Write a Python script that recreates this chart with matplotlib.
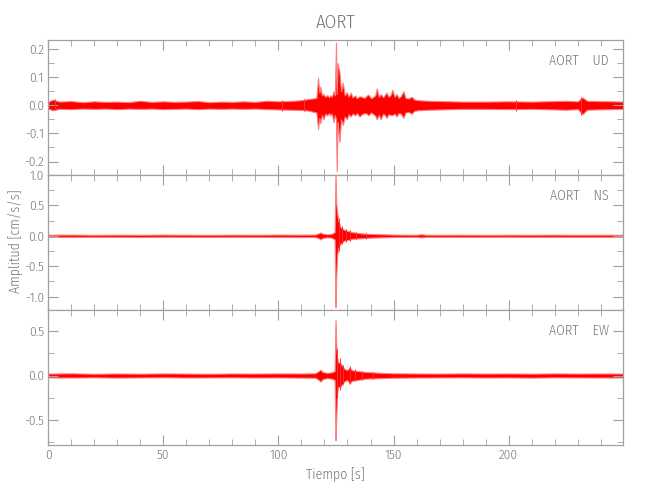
import matplotlib
matplotlib.use("Agg")
import matplotlib.pyplot as plt
from matplotlib.ticker import MultipleLocator, FormatStrFormatter

plt.rcParams["font.family"] = ["Fira Sans Condensed", "Liberation Sans Narrow", "DejaVu Sans"]
plt.rcParams["font.weight"] = 300
plt.rcParams["axes.labelweight"] = 300

# envelope of each trace (time in s, amplitude in cm/s/s)
ud_t = [0, 2, 5, 10, 15, 20, 25, 30, 35, 40, 45, 50,
        55, 60, 65, 70, 75, 80, 85, 90, 95, 100, 105, 110,
        113, 116.5, 117.2, 117.8, 118.2, 118.9, 119.6, 120.4,
        121.2, 122, 122.5, 123.2, 123.9, 124.5, 125.0, 125.3,
        125.7, 126.5, 127.2, 128, 128.8, 129.7, 130.5, 131.4, 132.2, 133.3,
        134.1, 135.2, 136.2, 137.4, 138.3, 139.1, 140.2, 141.3, 142.1, 142.7,
        143.6, 144.4, 145.5, 146.3, 146.9, 147.8, 148.7, 149.5, 150.4, 151.3,
        152.2, 153.1, 154.3, 155.2, 156.4, 157.9, 159, 160.5,
        165, 170, 175, 180, 190, 200, 210, 220, 225, 230,
        232, 234, 238, 245, 250]
ud_hi = [0.012, 0.020, 0.013, 0.015, 0.011, 0.014, 0.012, 0.013, 0.011, 0.016, 0.012, 0.014,
         0.012, 0.013, 0.015, 0.011, 0.013, 0.012, 0.014, 0.012, 0.016, 0.014, 0.015, 0.018,
         0.022, 0.026, 0.098, 0.045, 0.066, 0.035, 0.040, 0.030,
         0.036, 0.028, 0.035, 0.030, 0.050, 0.035, 0.222, 0.040,
         0.150, 0.120, 0.050, 0.080, 0.035, 0.046, 0.030, 0.045, 0.028, 0.035,
         0.025, 0.032, 0.030, 0.026, 0.034, 0.038, 0.025, 0.030, 0.036, 0.060,
         0.030, 0.040, 0.028, 0.038, 0.045, 0.030, 0.036, 0.055, 0.030, 0.040,
         0.026, 0.032, 0.050, 0.026, 0.024, 0.030, 0.020, 0.018,
         0.016, 0.015, 0.014, 0.013, 0.013, 0.014, 0.013, 0.015, 0.016, 0.014,
         0.028, 0.016, 0.015, 0.014, 0.013]
ud_lo = [-0.012, -0.018, -0.013, -0.014, -0.012, -0.013, -0.012, -0.014, -0.012, -0.013, -0.012, -0.014,
         -0.013, -0.012, -0.014, -0.012, -0.013, -0.012, -0.013, -0.012, -0.014, -0.015, -0.016, -0.017,
         -0.019, -0.026, -0.085, -0.045, -0.064, -0.035, -0.050, -0.030,
         -0.036, -0.028, -0.035, -0.030, -0.060, -0.035, -0.050, -0.235,
         -0.060, -0.130, -0.050, -0.070, -0.040, -0.050, -0.032, -0.040, -0.030, -0.036,
         -0.028, -0.040, -0.032, -0.028, -0.030, -0.036, -0.026, -0.032, -0.038, -0.050,
         -0.034, -0.050, -0.030, -0.036, -0.045, -0.032, -0.035, -0.035, -0.030, -0.040,
         -0.028, -0.030, -0.045, -0.026, -0.024, -0.030, -0.020, -0.018,
         -0.016, -0.015, -0.014, -0.013, -0.013, -0.014, -0.013, -0.015, -0.016, -0.014,
         -0.032, -0.016, -0.015, -0.014, -0.013]

# single wiggles sticking out of the envelope
ud_sp_t = [3, 101.5, 111, 203, 231.5]
ud_sp_hi = [0.022, 0.020, 0.024, 0.020, 0.028]
ud_sp_lo = [-0.018, -0.020, -0.022, -0.020, -0.034]

ns_t = [0, 10, 20, 30, 40, 50, 60, 70, 80, 90,
        100, 110, 116, 117.5, 118.3, 119.2, 121, 123, 124.4, 124.8,
        125.1, 125.5, 126, 127, 128.5, 130, 132, 136, 140, 145,
        150, 160, 162, 164, 170, 180, 190, 200, 210, 220,
        230, 240, 250]
ns_hi = [0.018, 0.020, 0.016, 0.019, 0.017, 0.020, 0.018, 0.016, 0.019, 0.018,
         0.020, 0.019, 0.020, 0.040, 0.055, 0.035, 0.025, 0.030, 0.060, 1.020,
         0.550, 0.380, 0.250, 0.140, 0.100, 0.080, 0.060, 0.040, 0.030, 0.025,
         0.020, 0.018, 0.026, 0.018, 0.017, 0.018, 0.016, 0.018, 0.017, 0.019,
         0.017, 0.018, 0.017]
ns_lo = [-0.018, -0.019, -0.017, -0.018, -0.020, -0.017, -0.018, -0.019, -0.017, -0.018,
         -0.019, -0.020, -0.020, -0.040, -0.060, -0.035, -0.025, -0.030, -0.060, -1.170,
         -0.700, -0.320, -0.200, -0.130, -0.080, -0.070, -0.050, -0.040, -0.030, -0.025,
         -0.020, -0.018, -0.026, -0.018, -0.017, -0.018, -0.017, -0.016, -0.018, -0.017,
         -0.018, -0.017, -0.018]
ns_sp_t = [126.2, 127.6, 129.2, 130.9, 133.5, 138]
ns_sp_hi = [0.30, 0.16, 0.11, 0.09, 0.07, 0.05]
ns_sp_lo = [-0.25, -0.13, -0.10, -0.08, -0.06, -0.045]

ew_t = [0, 10, 20, 30, 40, 50, 60, 70, 80, 90,
        100, 110, 116, 117.5, 118.3, 119.2, 121, 123, 124.4, 124.8,
        125.1, 125.5, 126, 127.2, 128.5, 129.8, 130.9, 132, 134.5, 138,
        144.6, 150, 160, 170, 180, 190, 200, 210, 220, 230,
        240, 250]
ew_hi = [0.022, 0.025, 0.020, 0.023, 0.021, 0.024, 0.022, 0.020, 0.023, 0.022,
         0.024, 0.023, 0.025, 0.050, 0.065, 0.040, 0.030, 0.035, 0.050, 0.630,
         0.350, 0.200, 0.150, 0.130, 0.080, 0.060, 0.090, 0.060, 0.050, 0.040,
         0.030, 0.025, 0.023, 0.022, 0.024, 0.022, 0.023, 0.021, 0.024, 0.022,
         0.023, 0.022]
ew_lo = [-0.022, -0.023, -0.021, -0.024, -0.022, -0.020, -0.023, -0.022, -0.021, -0.023,
         -0.022, -0.024, -0.025, -0.050, -0.070, -0.040, -0.030, -0.035, -0.050, -0.730,
         -0.520, -0.200, -0.130, -0.120, -0.070, -0.050, -0.090, -0.060, -0.050, -0.035,
         -0.030, -0.025, -0.023, -0.022, -0.021, -0.023, -0.022, -0.024, -0.021, -0.022,
         -0.023, -0.022]
ew_sp_t = [125.6, 126.6, 128.0, 131.3, 133.2, 136.5, 141]
ew_sp_hi = [0.30, 0.20, 0.12, 0.11, 0.07, 0.05, 0.04]
ew_sp_lo = [-0.25, -0.16, -0.10, -0.10, -0.06, -0.05, -0.04]

channels = ["UD", "NS", "EW"]
ylims = [(-0.248, 0.232), (-1.22, 1.0), (-0.785, 0.74)]
major = [0.1, 0.5, 0.5]
minor = [0.05, 0.25, 0.25]

axis_gray = "#a0a0a0"
text_gray = "#777777"

fig, axes = plt.subplots(3, 1, sharex=True, figsize=(6.5, 5), dpi=100,
                         gridspec_kw={"hspace": 0})
fig.subplots_adjust(left=0.074, right=0.958, top=0.92, bottom=0.11)

traces = [(ud_t, ud_hi, ud_lo, ud_sp_t, ud_sp_hi, ud_sp_lo),
          (ns_t, ns_hi, ns_lo, ns_sp_t, ns_sp_hi, ns_sp_lo),
          (ew_t, ew_hi, ew_lo, ew_sp_t, ew_sp_hi, ew_sp_lo)]
for ax, tr, ch, yl, mj, mn in zip(axes, traces, channels, ylims, major, minor):
    t, hi, lo, st, shi, slo = tr
    ax.fill_between(t, lo, hi, facecolor="#ff0000", edgecolor="#ff7f7f", linewidth=0.8)
    ax.vlines(st, slo, shi, color="#ff3030", linewidth=0.7)
    ax.set_xlim(0, 249.5)
    ax.set_ylim(*yl)
    ax.yaxis.set_major_locator(MultipleLocator(mj))
    ax.yaxis.set_minor_locator(MultipleLocator(mn))
    ax.yaxis.set_major_formatter(FormatStrFormatter("%.1f"))
    ax.xaxis.set_major_locator(MultipleLocator(50))
    ax.xaxis.set_minor_locator(MultipleLocator(10))
    ax.tick_params(which="both", direction="in", top=True, right=True,
                   color=axis_gray, labelcolor=text_gray, labelsize=9.5, pad=3)
    ax.tick_params(which="major", length=7)
    ax.tick_params(which="minor", length=4)
    for s in ax.spines.values():
        s.set_color(axis_gray)
        s.set_linewidth(0.9)
    ax.text(0.976, 0.845, "AORT    " + ch, transform=ax.transAxes,
            ha="right", va="center", fontsize=10, color=text_gray)

fig.text(0.516, 0.954, "AORT", ha="center", va="center", fontsize=13.5, color=text_gray)
fig.text(0.022, 0.518, "Amplitud [cm/s/s]", rotation=90, ha="center", va="center",
         fontsize=10, color=text_gray)
axes[2].set_xlabel("Tiempo [s]", fontsize=10, color=text_gray, labelpad=4)

fig.savefig("out.png", dpi=100)
